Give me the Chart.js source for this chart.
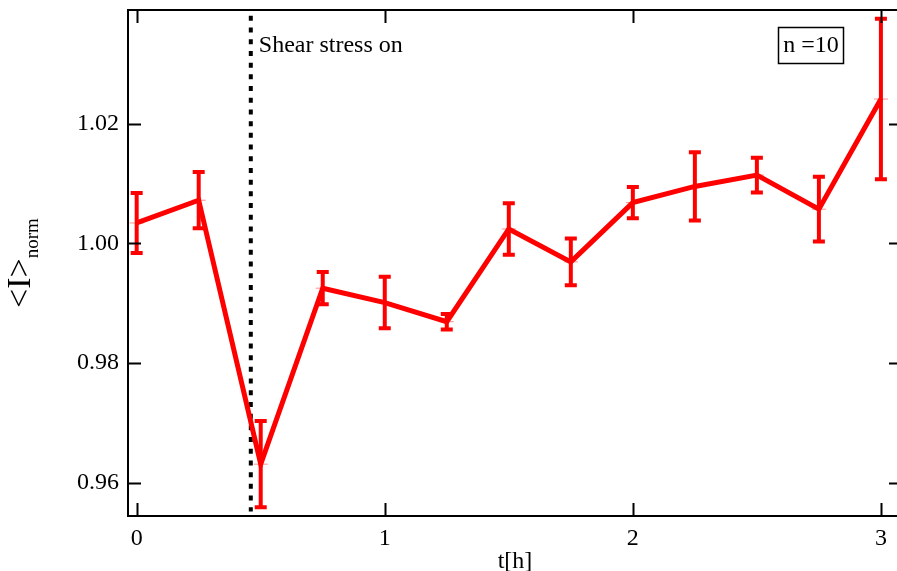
<!DOCTYPE html>
<html>
<head>
<meta charset="utf-8">
<script src="https://cdn.jsdelivr.net/npm/chart.js@4.4.1/dist/chart.umd.min.js"></script>
<style>
  html, body { margin: 0; padding: 0; background: #fff; overflow: hidden; }
  #wrap { position: relative; width: 902px; height: 571px; }
</style>
</head>
<body>
<div id="wrap"><canvas id="chart" width="902" height="571"></canvas></div>
<script>
// time in hours
const times = [0, 0.25, 0.5, 0.75, 1.0, 1.25, 1.5, 1.75, 2.0, 2.25, 2.5, 2.75, 3.0]
// normalised intensity <I>_norm
const intensity = [1.0034, 1.0072, 0.9631, 0.9925, 0.9901, 0.9869, 1.0024, 0.9969, 1.0068, 1.0095, 1.0114, 1.0057, 1.0241]
// error bar half widths
const errors = [0.0050, 0.0047, 0.0072, 0.0027, 0.0043, 0.0013, 0.0043, 0.0039, 0.0026, 0.0057, 0.0029, 0.0054, 0.0134]

const xTicks = [0, 1, 2, 3]
const yTicks = [0.96, 0.98, 1.00, 1.02]
const shearOnTime = 0.46

const serif = "'Liberation Serif', 'Times New Roman', serif"

const errorBars = {
  id: 'errorBars',
  beforeDatasetsDraw (chart) {
    const ctx = chart.ctx
    const x = chart.scales.x
    const y = chart.scales.y
    ctx.save()
    ctx.strokeStyle = '#ff0000'
    ctx.lineCap = 'butt'
    times.forEach((t, i) => {
      const px = x.getPixelForValue(t)
      const top = y.getPixelForValue(intensity[i] + errors[i])
      const bot = y.getPixelForValue(intensity[i] - errors[i])
      ctx.lineWidth = 4
      ctx.beginPath()
      ctx.moveTo(px, top)
      ctx.lineTo(px, bot)
      ctx.stroke()
      ctx.beginPath()
      ctx.moveTo(px - 6, top)
      ctx.lineTo(px + 6, top)
      ctx.moveTo(px - 6, bot)
      ctx.lineTo(px + 6, bot)
      ctx.stroke()
      // faint centre marker
      const pc = y.getPixelForValue(intensity[i])
      ctx.lineWidth = 1
      ctx.strokeStyle = 'rgba(255,0,0,0.45)'
      ctx.beginPath()
      ctx.moveTo(px - 7, pc)
      ctx.lineTo(px + 7, pc)
      ctx.stroke()
      ctx.strokeStyle = '#ff0000'
    })
    ctx.restore()
  },
  afterDraw (chart) {
    const ctx = chart.ctx
    const a = chart.chartArea
    const x = chart.scales.x
    const y = chart.scales.y
    ctx.save()
    // frame
    ctx.strokeStyle = '#000'
    ctx.lineWidth = 2
    ctx.strokeRect(a.left, a.top, a.right - a.left, a.bottom - a.top)
    // inward ticks on all sides
    const tl = 13
    ctx.beginPath()
    xTicks.forEach(v => {
      const px = Math.round(x.getPixelForValue(v)) + 0.5
      ctx.moveTo(px, a.bottom); ctx.lineTo(px, a.bottom - tl)
      ctx.moveTo(px, a.top); ctx.lineTo(px, a.top + tl)
    })
    yTicks.forEach(v => {
      const py = Math.round(y.getPixelForValue(v)) + 0.5
      ctx.moveTo(a.left, py); ctx.lineTo(a.left + tl, py)
      ctx.moveTo(a.right, py); ctx.lineTo(a.right - tl, py)
    })
    ctx.stroke()

    // shear label
    ctx.fillStyle = '#000'
    ctx.font = '24px ' + serif
    ctx.textBaseline = 'alphabetic'
    ctx.textAlign = 'left'
    ctx.fillText('Shear stress on', x.getPixelForValue(shearOnTime) + 8, a.top + 42)

    // n = 10 box
    ctx.lineWidth = 1.5
    ctx.strokeRect(778.5, 27.5, 65, 36)
    ctx.textAlign = 'center'
    ctx.textBaseline = 'middle'
    ctx.fillText('n =10', 811, 46)

    // y axis title with subscript
    const yc = (a.top + a.bottom) / 2
    ctx.translate(30, yc)
    ctx.rotate(-Math.PI / 2)
    ctx.textAlign = 'left'
    ctx.textBaseline = 'alphabetic'
    const main = '<I>'
    const sub = 'norm'
    ctx.font = '34px ' + serif
    const w1 = ctx.measureText(main).width
    ctx.font = '19px ' + serif
    const w2 = ctx.measureText(sub).width
    const start = -(w1 + w2) / 2
    ctx.font = '34px ' + serif
    ctx.fillText(main, start, 0)
    ctx.font = '19px ' + serif
    ctx.fillText(sub, start + w1, 8)
    ctx.restore()
  }
}

const ctx = document.getElementById('chart').getContext('2d')

const chart = new Chart(ctx, {
  type: 'line',
  data: {
    datasets: [
      {
        label: 'intensity',
        data: times.map((t, i) => ({ x: t, y: intensity[i] })),
        borderColor: '#ff0000',
        borderWidth: 5,
        pointRadius: 0,
        tension: 0,
        fill: false
      },
      {
        label: 'shear on',
        data: [{ x: shearOnTime, y: 1.0380 }, { x: shearOnTime, y: 0.9552 }],
        borderColor: '#000',
        borderWidth: 4,
        borderDash: [5, 6.7],
        pointRadius: 0,
        fill: false
      }
    ]
  },
  plugins: [errorBars],
  options: {
    responsive: false,
    animation: false,
    devicePixelRatio: 1,
    layout: { padding: { top: 10, left: 0, right: 0, bottom: 0 } },
    scales: {
      x: {
        type: 'linear',
        min: -0.035,
        max: 3.085,
        afterBuildTicks: (scale) => { scale.ticks = xTicks.map(v => ({ value: v })) },
        afterFit: (scale) => {
          scale.height = 55
          scale.paddingLeft = 0
          scale.paddingRight = 0
        },
        grid: { display: false, drawTicks: false },
        border: { display: false },
        ticks: {
          color: '#000',
          padding: 8,
          maxRotation: 0,
          font: { family: serif, size: 24 },
          callback: (v) => String(v)
        },
        title: {
          display: true,
          text: 't[h]',
          color: '#000',
          padding: { top: 5, bottom: -5 },
          font: { family: serif, size: 24 }
        }
      },
      y: {
        min: 0.95444,
        max: 1.03898,
        afterBuildTicks: (scale) => { scale.ticks = yTicks.map(v => ({ value: v })) },
        afterFit: (scale) => {
          scale.width = 128
          scale.paddingTop = 0
          scale.paddingBottom = 0
        },
        grid: { display: false, drawTicks: false },
        border: { display: false },
        ticks: {
          color: '#000',
          padding: 9,
          font: { family: serif, size: 24 },
          callback: (v) => v.toFixed(2)
        }
      }
    },
    plugins: {
      legend: { display: false },
      title: { display: false },
      tooltip: { enabled: false }
    }
  }
})
</script>
</body>
</html>
